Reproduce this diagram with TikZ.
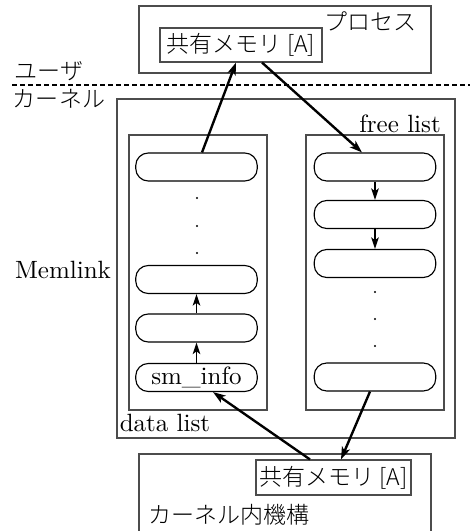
\documentclass[tikz,border=0pt]{standalone}
\usepackage{fontspec}
\newfontfamily\jp[Scale=0.92]{Noto Sans CJK JP Light}
\usetikzlibrary{arrows.meta}
\definecolor{boxgray}{gray}{0.3}
\begin{document}
\begin{tikzpicture}[x=0.4pt,y=-0.4pt,
  box/.style={draw=boxgray,line width=0.45pt,rectangle,inner sep=0pt},
  pill/.style={draw=black,line width=0.45pt,rectangle,rounded corners=5pt,minimum width=48.6pt,minimum height=11.2pt,inner sep=0pt},
  lbl/.style={inner sep=0pt},
  bigarrow/.style={line width=0.95pt,-{Stealth[length=5pt,width=3.4pt,inset=1.3pt]}},
  smallarrow/.style={line width=0.7pt,-{Stealth[length=4.6pt,width=3pt,inset=1.1pt]}},
  dotmark/.style={circle,fill=black,inner sep=0pt,minimum size=0.9pt},
  dashline/.style={line width=0.45pt,dash pattern=on 1.8pt off 1.4pt}]
\useasboundingbox (0,0) rectangle (470,531);
\clip (0,0) rectangle (470,531);
% process
\node[box,minimum width=116.8pt,minimum height=26.8pt] (proc) at (285,39.5) {};
\node[box,minimum width=64.8pt,minimum height=13.6pt] (smtop) at (241,45) {\jp 共有メモリ [A]};
\node[lbl] (proclbl) at (370,21.5) {\jp プロセス};
% user / kernel boundary
\coordinate (dl) at (12,85);
\coordinate (dr) at (470,85);
\draw[dashline] (dl) -- (dr);
\node[lbl] (user) at (49,71) {\jp ユーザ};
\node[lbl] (kernel) at (59,98.5) {\jp カーネル};
% Memlink
\node[box,minimum width=135.2pt,minimum height=135.6pt] (memlink) at (286,268.5) {};
\node[lbl] (memlinklbl) at (63,270) {Memlink};
\node[lbl] (freelbl) at (400,124) {free list};
\node[lbl] (datalbl) at (165,423) {data list};
\node[box,minimum width=55.2pt,minimum height=110pt] (databox) at (198,272.5) {};
\node[box,minimum width=55.2pt,minimum height=110pt] (freebox) at (375,272.5) {};
% data list nodes
\node[pill] (d1) at (196.5,167) {};
\node[pill] (d2) at (196.5,279.5) {};
\node[pill] (d3) at (196.5,328) {};
\node[pill] (d4) at (196.5,377.5) {sm\_info};
\node[dotmark] (dd1) at (197,198) {};
\node[dotmark] (dd2) at (197,226) {};
\node[dotmark] (dd3) at (197,253) {};
% free list nodes
\node[pill] (f1) at (375,167) {};
\node[pill] (f2) at (375,214.5) {};
\node[pill] (f3) at (375,263.5) {};
\node[pill] (f4) at (375,377) {};
\node[dotmark] (fd1) at (375,292) {};
\node[dotmark] (fd2) at (375,319) {};
\node[dotmark] (fd3) at (375,346) {};
% kernel mechanism
\node[box,minimum width=116.8pt,minimum height=42.4pt] (kmech) at (285,507) {};
\node[box,minimum width=62pt,minimum height=14pt] (smbot) at (333.5,477.5) {\jp 共有メモリ [A]};
\node[lbl] (kmechlbl) at (229,515) {\jp カーネル内機構};
% arrows
\draw[bigarrow] ([xshift=2.2pt]d1.north) -- ([xshift=-2pt]smtop.south);
\draw[bigarrow] ([xshift=8.4pt]smtop.south) -- ([xshift=-5.2pt]f1.north);
\draw[bigarrow] ([xshift=-2pt]f4.south) -- ([xshift=3pt]smbot.north);
\draw[bigarrow] ([xshift=-9.4pt]smbot.north) -- ([xshift=6.6pt]d4.south);
\draw[smallarrow] (d4.north) -- (d3.south);
\draw[smallarrow] (d3.north) -- (d2.south);
\draw[smallarrow] (f1.south) -- (f2.north);
\draw[smallarrow] (f2.south) -- (f3.north);
\end{tikzpicture}
\end{document}
